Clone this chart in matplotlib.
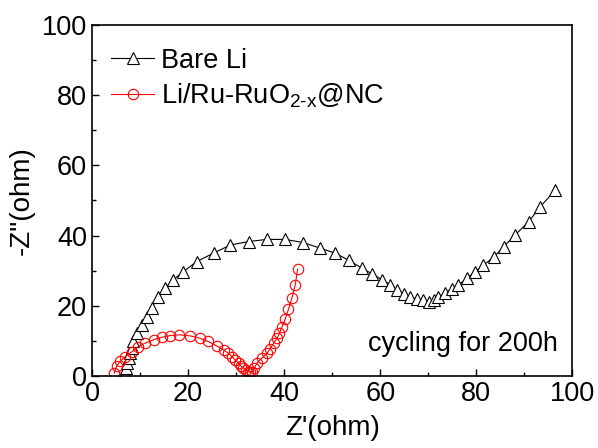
import matplotlib
matplotlib.use('Agg')
import matplotlib.pyplot as plt
from matplotlib.ticker import MultipleLocator

plt.rcParams['font.family'] = ['Liberation Sans', 'DejaVu Sans']
plt.rcParams['mathtext.fontset'] = 'custom'
plt.rcParams['mathtext.rm'] = 'Liberation Sans'

# Bare Li Nyquist data
bare_x = [6.7, 6.9, 7.1, 7.2, 7.6, 7.9, 8.3, 8.6, 9.3, 10.3, 11.4, 12.4, 13.8, 15.2,
          16.9, 19.0, 21.8, 25.3, 28.8, 32.6, 36.4, 40.2, 44.0, 47.5, 50.6, 53.4,
          56.2, 58.3, 60.4, 62.1, 63.5, 64.9, 66.3, 67.6, 69.0, 70.1, 71.1, 72.1,
          73.5, 74.9, 76.3, 78.0, 79.8, 81.5, 83.6, 85.7, 88.1, 90.9, 93.3, 96.5]
bare_y = [0.3, 1.2, 2.2, 3.6, 5.0, 6.4, 7.9, 9.8, 12.2, 14.5, 16.9, 19.3, 22.6, 25.0,
          27.4, 29.7, 32.6, 35.0, 37.3, 38.3, 38.9, 38.9, 38.0, 36.4, 35.0, 33.0,
          30.7, 29.1, 27.4, 26.0, 24.5, 23.4, 22.4, 21.9, 21.5, 21.2, 21.7, 22.4,
          23.6, 24.7, 25.9, 27.8, 29.7, 31.6, 33.8, 36.8, 40.2, 43.9, 48.2, 53.0]

# Li/Ru-RuO2-x@NC
ru_x = [4.6, 5.1, 5.8, 6.9, 8.3, 9.6, 11.0, 12.8, 14.5, 16.3, 18.2, 20.4, 22.5, 24.2,
        26.0, 27.4, 28.4, 29.1, 29.8, 30.5, 31.0, 31.5, 32.0, 32.5, 32.9, 33.4,
        33.8, 34.3, 35.3, 36.4, 37.1, 37.8, 38.5, 39.0, 39.5, 40.2, 40.9, 41.6,
        42.3, 42.8]
ru_y = [0.8, 2.7, 4.1, 5.5, 6.9, 8.3, 9.3, 10.3, 11.0, 11.5, 11.7, 11.4, 10.7, 9.8,
        8.5, 7.4, 6.4, 5.5, 4.6, 3.6, 2.8, 2.2, 1.7, 1.2, 1.0, 1.2,
        2.2, 3.6, 5.0, 6.4, 7.8, 9.3, 10.7, 12.1, 13.8, 16.1, 19.0, 22.1,
        25.9, 30.4]

fig = plt.figure(figsize=(5.98, 4.48), dpi=100)
ax = fig.add_axes([0.154, 0.161, 0.803, 0.783])

ax.plot(bare_x, bare_y, color='black', lw=0.8, marker='^', ms=8.5,
        mfc='white', mec='black', mew=0.8, label='Bare Li')
ax.plot(ru_x, ru_y, color='red', lw=0.8, marker='o', ms=7.5,
        mfc='none', mec='red', mew=0.8,
        label=r'Li/Ru-RuO$_{\mathregular{2\text{-}x}}$@NC')

ax.set_xlim(0, 100)
ax.set_ylim(0, 100)
ax.xaxis.set_major_locator(MultipleLocator(20))
ax.xaxis.set_minor_locator(MultipleLocator(10))
ax.yaxis.set_major_locator(MultipleLocator(20))
ax.yaxis.set_minor_locator(MultipleLocator(10))
ax.tick_params(which='both', direction='in', labelsize=19.5, width=1)
ax.tick_params(which='major', length=5)
ax.tick_params(which='minor', length=3)
for s in ax.spines.values():
    s.set_linewidth(1.2)

ax.set_xlabel("Z'(ohm)", fontsize=20, labelpad=6)
ax.set_ylabel('-Z"(ohm)', fontsize=20, labelpad=5)

ax.legend(loc='upper left', frameon=False, fontsize=19.5, handlelength=1.6,
          handletextpad=0.25, labelspacing=0.3, borderaxespad=0.3,
          bbox_to_anchor=(0.0, 0.99))
ax.text(0.97, 0.09, 'cycling for 200h', transform=ax.transAxes,
        ha='right', va='center', fontsize=19.5)

fig.savefig('out.png', dpi=100)
